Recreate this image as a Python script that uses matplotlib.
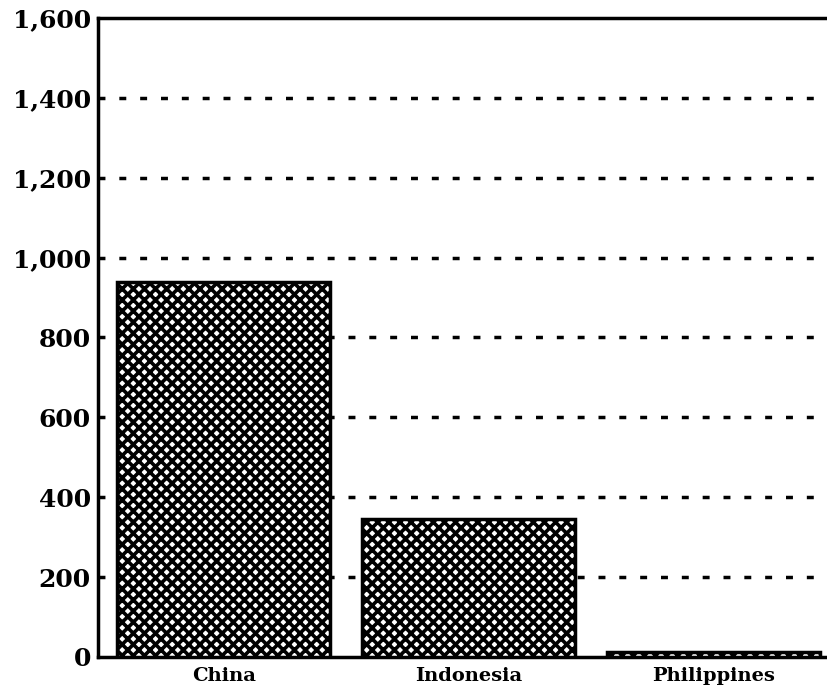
import matplotlib
matplotlib.use('Agg')
import matplotlib.pyplot as plt
from matplotlib.ticker import FuncFormatter

# Data
countries = ['China', 'Indonesia', 'Philippines']
values = [940, 345, 12]
yticks = [0, 200, 400, 600, 800, 1000, 1200, 1400, 1600]

plt.rcParams['hatch.linewidth'] = 2.6
plt.rcParams['font.family'] = ['DejaVu Serif']

fig = plt.figure(figsize=(8.28, 6.93), dpi=100)
ax = fig.add_axes([0.118, 0.052, 0.882, 0.922])

ax.bar(range(len(countries)), values, width=0.87, color='white',
       edgecolor='black', hatch='xxx', linewidth=2.5, zorder=3)

ax.set_xlim(-0.514, 2.466)
ax.set_ylim(0, 1600)
ax.set_yticks(yticks)
ax.yaxis.set_major_formatter(FuncFormatter(lambda v, p: f'{int(v):,}'))
ax.set_xticks(range(len(countries)))
ax.set_xticklabels(countries, fontsize=14, fontweight='heavy')
for lab in ax.get_yticklabels():
    lab.set_fontsize(18)
    lab.set_fontweight('heavy')

ax.tick_params(axis='x', length=0, pad=7)
ax.tick_params(axis='y', direction='in', length=4, width=2, pad=5)

for y in yticks[1:-1]:
    ax.axhline(y, color='black', linewidth=2.5, linestyle=(0, (2, 4)), zorder=1)

for side in ['left', 'bottom', 'top']:
    ax.spines[side].set_linewidth(2.5)
ax.spines['right'].set_visible(False)

plt.savefig('out.png', dpi=100)
plt.close()
